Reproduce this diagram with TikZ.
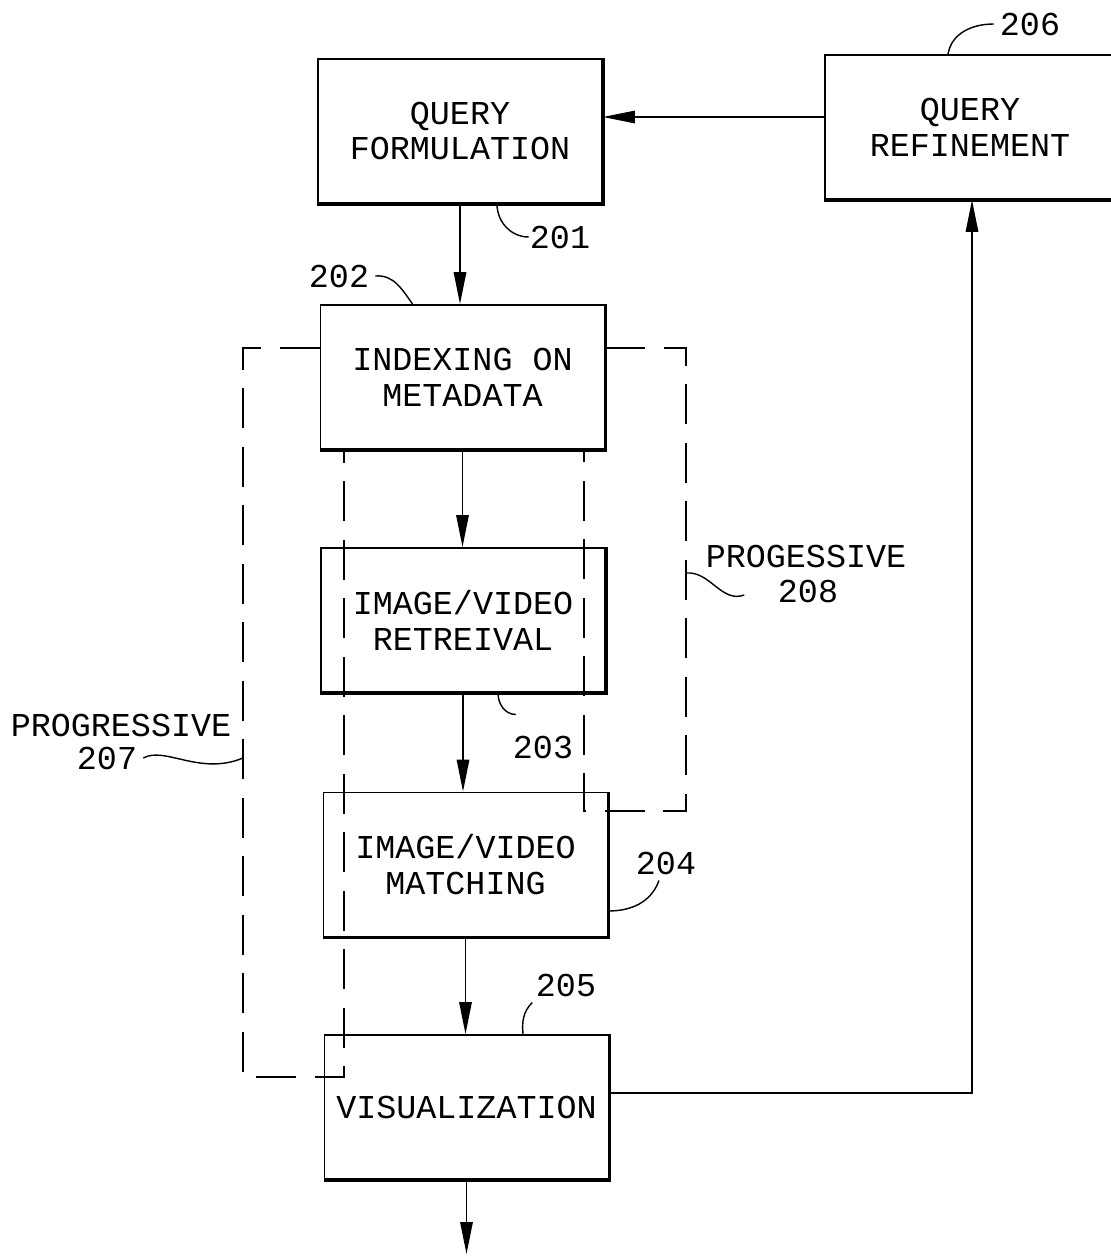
\documentclass[tikz,border=0pt]{standalone}
\usepackage{fontspec}
\newfontfamily\plotfont{Liberation Mono}
\usepackage{tikz}
\usetikzlibrary{arrows.meta}
\tikzset{
  blk/.style={draw,line width=1.1pt,minimum width=5.68cm,minimum height=2.88cm,align=center,inner sep=0pt},
  flow/.style={line width=0.8pt,-{Triangle[length=0.64cm,width=0.25cm]}},
  prog/.style={line width=1pt,dash pattern=on 0.8cm off 0.37cm},
  lead/.style={line width=0.8pt},
}

\begin{document}
\begin{tikzpicture}[x=0.02cm,y=-0.02cm,font=\plotfont\fontsize{19}{20.4}\selectfont]
\useasboundingbox (0,0) rectangle (1110,1258);
\node[blk] (qf) at (460,131) {QUERY\\FORMULATION};
\node[blk,minimum width=5.8cm] (qr) at (970,127) {QUERY\\REFINEMENT};
\node[blk] (idx) at (462.5,377) {INDEXING ON\\METADATA};
\node[blk] (ret) at (463,620) {IMAGE/VIDEO\\RETREIVAL};
\node[blk] (mat) at (465.5,864.5) {IMAGE/VIDEO\\MATCHING};
\node[blk] (vis) at (466.5,1107) {VISUALIZATION};
\foreach \n in {qf,qr,idx,ret,mat,vis}
  \draw[line width=2pt] (\n.north east) -- (\n.south east) -- (\n.south west);
\coordinate (out) at (466.5,1254);
\draw[flow] (qf.south) -- (qf.south |- idx.north);
\draw[flow] (idx.south) -- (idx.south |- ret.north);
\draw[flow] (ret.south) -- (ret.south |- mat.north);
\draw[flow] (mat.south) -- (mat.south |- vis.north);
\draw[flow] (vis.south) -- (out);
\draw[flow] ([yshift=0.2cm]qr.west) -- ([yshift=0.2cm]qr.west -| qf.east);
\draw[flow] ([yshift=0.28cm]vis.east) -| ([xshift=0.04cm]qr.south);
\draw[prog] (idx.west |- 0,348) -- (243,348) -- (243,1077) -- (344,1077) -- (idx.south -| 344,0);
\draw[prog] (idx.east |- 0,348) -- (686,348) -- (686,811) -- (584,811) -- (idx.south -| 584,0);
\node (n201) at (560,237) {201};
\node (n202) at (339,276) {202};
\node (n203) at (543,747) {203};
\node (n204) at (666,863) {204};
\node (n205) at (566,985) {205};
\node (n206) at (1030,24) {206};
\node (n207t) at (121,725) {PROGRESSIVE};
\node (n207) at (107,758) {207};
\node (n208t) at (806,556) {PROGESSIVE};
\node (n208) at (808,591) {208};
\draw[lead] ([xshift=0.74cm]qf.south) to[out=-90,in=180] ([xshift=0.1cm]n201.west);
\draw[lead] (n202.east) to[out=5,in=125] ([xshift=-1cm]idx.north);
\draw[lead] ([xshift=0.7cm]ret.south) to[out=-90,in=180] ([xshift=0.18cm,yshift=0.3cm]n203.north west);
\draw[lead] ([yshift=-0.93cm]mat.east) to[out=0,in=-110] ([xshift=-0.14cm]n204.south);
\draw[lead] ([xshift=1.13cm]vis.north) to[out=95,in=-135] ([xshift=0.05cm]n205.south west);
\draw[lead] ([xshift=-0.44cm]qr.north) to[out=80,in=180] (n206.west);
\draw[lead] (n207.east) .. controls (165,746) and (200,776) .. (n207.east -| 243,0);
\draw[lead] (n208.west -| 686,0) ++(0,-18) to[out=5,in=-160] ([xshift=-0.55cm,yshift=-0.08cm]n208.west);
\end{tikzpicture}
\end{document}
